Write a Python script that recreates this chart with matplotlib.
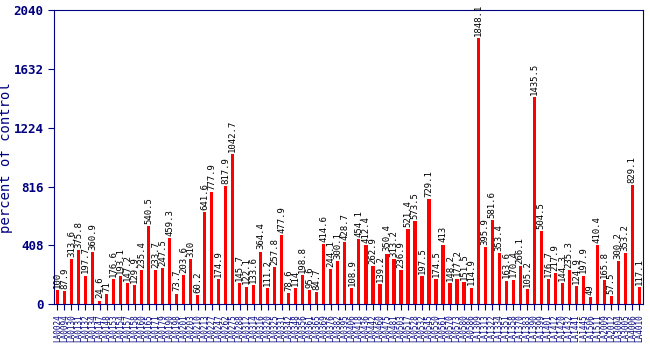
import numpy as np
import matplotlib.pyplot as plt

# accession labels (too small to read exactly in the reference)
labels = ['LA0024', 'LA0094', 'LA0130', 'LA0131', 'LA0132', 'LA0134', 'LA0147', 'LA0148',
          'LA0153', 'LA0154', 'LA0157', 'LA0158', 'LA0160', 'LA0165', 'LA0171', 'LA0179',
          'LA0190', 'LA0198', 'LA0201', 'LA0203', 'LA0210', 'LA0213', 'LA0227', 'LA0247',
          'LA0262', 'LA0275', 'LA0288', 'LA0312', 'LA0314', 'LA0316', 'LA0320', 'LA0325',
          'LA0331', 'LA0342', 'LA0348', 'LA0356', 'LA0361', 'LA0365', 'LA0369', 'LA0376',
          'LA0382', 'LA0395', 'LA0406', 'LA0418', 'LA0436', 'LA0442', 'LA0460', 'LA0475',
          'LA0481', 'LA0503', 'LA0517', 'LA0528', 'LA0532', 'LA0545', 'LA0550', 'LA0561',
          'LA0570', 'LA0573', 'LA0580', 'LA0586', 'LA1309', 'LA1313', 'LA1322', 'LA1334',
          'LA1351', 'LA1358', 'LA1370', 'LA1383', 'LA1390', 'LA1399', 'LA1401', 'LA1412',
          'LA1420', 'LA1432', 'LA1441', 'LA1445', 'LA1506', 'LA1511', 'LA2009', 'LA2012',
          'LA3004', 'LA3005', 'LA4006', 'LA4010']

values = [100, 87.9, 313.6, 375.8, 197.7, 360.9, 24.6, 71, 176.6, 193.1,
          147.2, 129.9, 235.4, 540.5, 233.7, 247.5, 459.3, 73.7, 203.6, 310,
          60.2, 641.6, 777.9, 174.9, 817.9, 1042.7, 145.7, 122.1, 133.6, 364.4,
          111.2, 257.8, 477.9, 78.6, 114, 198.8, 95.6, 84.7, 414.6, 244.1,
          300.1, 428.7, 108.9, 454.1, 412.4, 262.9, 139.2, 350.4, 313.2, 236.9,
          521.4, 573.5, 197.5, 729.1, 174.5, 413, 148.2, 177.2, 151.5, 114.9,
          1848.1, 395.9, 581.6, 353.4, 163.6, 170.4, 266.1, 105.2, 1435.5, 504.5,
          176.7, 217.9, 144.3, 235.3, 124.9, 197.9, 49, 410.4, 165.8, 57.5,
          300.2, 353.2, 829.1, 117.1]

yticks = [0, 408, 816, 1224, 1632, 2040]

navy = '#000080'
plt.rcParams['font.family'] = 'DejaVu Sans Mono'

fig = plt.figure(figsize=(6.5, 3.5), dpi=100)
ax = fig.add_axes([0.083, 0.131, 0.906, 0.84])

x = np.arange(len(values))
ax.bar(x, values, width=0.45, color='#ff0000')

for xi, v in zip(x, values):
    ax.text(xi, v + 15, '{:g}'.format(v), rotation=90, ha='center', va='bottom',
            fontsize=6.5, color='black')

ax.set_xlim(-0.5, len(values) - 0.5)
ax.set_ylim(0, 2040)
ax.set_yticks(yticks)
ax.set_yticklabels([str(t) for t in yticks], fontsize=9, fontweight='bold', color=navy)
ax.set_xticks(x)
ax.set_xticklabels(labels, rotation=90, fontsize=5.5, color=navy)
ax.tick_params(axis='y', colors=navy, length=4)
ax.tick_params(axis='x', colors=navy, length=4)
for s in ax.spines.values():
    s.set_color(navy)
ax.set_ylabel('percent of control', fontsize=10, color=navy)
ax.yaxis.set_label_coords(-0.07, 0.5)

plt.savefig('out.png', dpi=100)
